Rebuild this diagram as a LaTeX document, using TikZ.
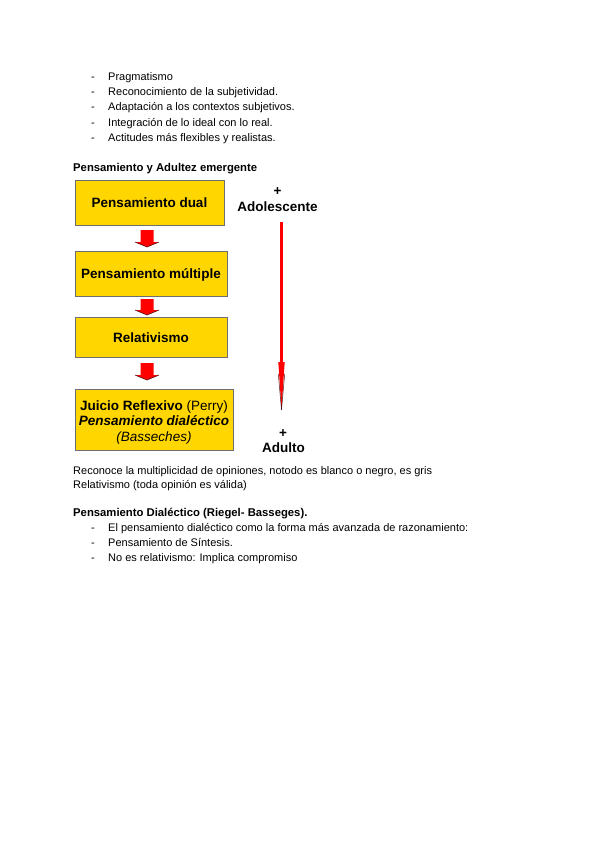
\documentclass[tikz,border=0pt]{standalone}
\usepackage{fontspec}
\setmainfont{Liberation Sans}
\usetikzlibrary{calc}
\definecolor{boxgold}{RGB}{255,214,0}
\definecolor{boxedge}{RGB}{110,110,110}
\definecolor{arrred}{RGB}{255,0,0}
\definecolor{arrdark}{RGB}{90,20,20}
\begin{document}
\begin{tikzpicture}[x=1pt,y=-1pt,
  body/.style={anchor=base west, inner sep=0pt, font=\fontsize{11}{13}\selectfont},
  bodybold/.style={anchor=base west, inner sep=0pt, font=\fontsize{11.3}{13}\selectfont\bfseries},
  dashitem/.style={anchor=base west, inner sep=0pt, font=\fontsize{11}{13}\selectfont},
  ybox/.style={draw=boxedge, line width=0.8pt, fill=boxgold, inner sep=0pt,
    align=center, font=\fontsize{13.5}{15.5}\selectfont\bfseries, text height=10pt, text depth=0pt},
  sidelabel/.style={anchor=base, inner sep=0pt, font=\fontsize{13.5}{15}\selectfont\bfseries},
  blockarrow/.style={fill=arrred, draw=none},
  arrowedge/.style={draw=arrdark, line width=0.6pt}
]
\useasboundingbox (0,0) rectangle (600,848);

% top list
\foreach \y/\t [count=\i] in {81/Pragmatismo, 96/Reconocimiento de la subjetividad., 111/Adaptación a los contextos subjetivos., 126/Integración de lo ideal con lo real., 141/Actitudes más flexibles y realistas.}{
  \node[dashitem] (d\i) at (91,\y) {-};
  \node[body] (t\i) at (108,\y) {\t};
}

\node[bodybold] (h1) at (73,171) {Pensamiento y Adultez emergente};

% boxes
\node[ybox, minimum width=149pt, minimum height=45pt] (b1) at (149.5,202.5) {Pensamiento dual};
\node[ybox, minimum width=152pt, minimum height=45pt] (b2) at (151,273.5) {Pensamiento múltiple};
\node[ybox, minimum width=152pt, minimum height=40pt] (b3) at (151,337) {Relativismo};
\node[ybox, minimum width=158pt, minimum height=61pt, text height=44pt, text depth=2pt] (b4) at (154,420)
  {Juicio Reflexivo \mdseries(Perry)\\ \itshape Pensamiento dialéctico\\ \mdseries\itshape(Basseches)};

% block arrows between boxes
\foreach \top/\bot in {230/247, 299/315, 363/380}{
  \fill[blockarrow] (140.5,\top) -- (153.5,\top) -- (153.5,\bot-5) -- (159,\bot-5) -- (147,\bot) -- (135,\bot-5) -- (140.5,\bot-5) -- cycle;
  \draw[arrowedge] (135,\bot-5) -- (147,\bot) -- (159,\bot-5);
}

% side labels
\node[sidelabel] (p1) at (277.5,195) {+};
\node[sidelabel] (ado) at (277.5,211.5) {Adolescente};
\node[sidelabel] (p2) at (283,437) {+};
\node[sidelabel] (adu) at (283.5,452.5) {Adulto};

% long red arrow
\coordinate (ls) at (281.5,222);
\coordinate (lh) at (281.5,362);
\coordinate (lt) at (281.5,410);
\draw[arrred, line width=3pt] (ls) -- (lh);
\fill[arrred] ($(lh)+(-3.2,0)$) -- ($(lh)+(3.2,0)$) -- (lt) -- cycle;
\draw[arrdark, line width=0.5pt] ($(lh)+(-3.2,12)$) -- (lt) -- ($(lh)+(3.2,12)$);

% lower text
\node[body] (r1) at (73,474) {Reconoce la multiplicidad de opiniones, notodo es blanco o negro, es gris};
\node[body] (r2) at (73,488) {Relativismo (toda opinión es válida)};

\node[bodybold] (h2) at (73,516) {Pensamiento Dialéctico (Riegel- Basseges).};
\foreach \y/\t [count=\i] in {531/El pensamiento dialéctico como la forma más avanzada de razonamiento:, 546/Pensamiento de Síntesis., 561/No es relativismo: Implica compromiso}{
  \node[dashitem] (e\i) at (91,\y) {-};
  \node[body] (u\i) at (108,\y) {\t};
}
\end{tikzpicture}
\end{document}
